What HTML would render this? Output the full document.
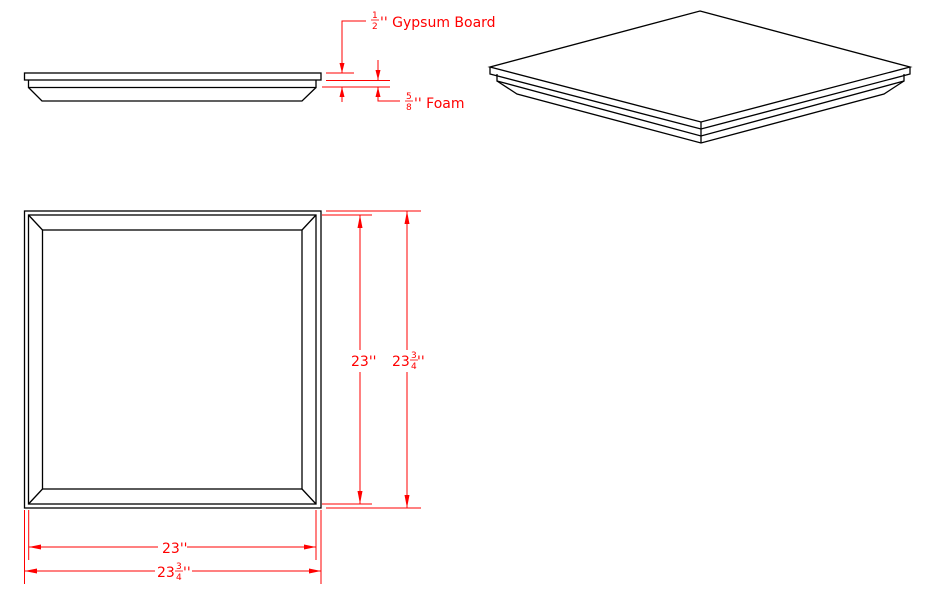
<!DOCTYPE html>
<html><head><meta charset="utf-8"><style>
html,body{margin:0;padding:0;background:#fff;width:933px;height:603px;overflow:hidden}
svg text{font-family:"DejaVu Sans","Liberation Sans",sans-serif;fill:#f00}
</style></head><body>
<svg width="933" height="603" viewBox="0 0 933 603" xmlns="http://www.w3.org/2000/svg">
<g fill="none" stroke="#000" stroke-width="1.3">
<rect x="24.5" y="73" width="296.5" height="7"/>
<polyline points="28.5,80 28.5,87.5 316,87.5 316,80"/>
<polyline points="28.5,87.5 42,101 302,101 316,87.5"/>
<polygon points="700,11 910,67 701,122 490,67"/>
<polyline points="490,67 490,74 701,129 910,74 910,67"/>
<line x1="701" y1="122" x2="701" y2="143"/>
<polyline points="497,74 497,81 701,136 904,81 904,74"/>
<polyline points="497,81 517,94 701,143 884,94 904,81"/>
<rect x="24.5" y="211" width="296.5" height="297"/>
<rect x="28.5" y="215" width="287.5" height="289"/>
<rect x="42.5" y="230" width="259.5" height="259"/>
<line x1="28.5" y1="215" x2="42.5" y2="230"/>
<line x1="316" y1="215" x2="302" y2="230"/>
<line x1="28.5" y1="504" x2="42.5" y2="489"/>
<line x1="316" y1="504" x2="302" y2="489"/>
</g>
<g stroke="#f00" stroke-width="1" fill="none">
<line x1="326" y1="73" x2="354" y2="73"/>
<line x1="326" y1="80.5" x2="390" y2="80.5"/>
<line x1="322" y1="87" x2="390" y2="87"/>
<polyline points="366,21 342,21 342,73"/>
<line x1="342" y1="87" x2="342" y2="102"/>
<line x1="378" y1="60" x2="378" y2="80"/>
<polyline points="378,87 378,101 400,101"/>
<line x1="322" y1="215" x2="372" y2="215"/>
<line x1="322" y1="504" x2="372" y2="504"/>
<line x1="360" y1="215" x2="360" y2="350"/>
<line x1="360" y1="372" x2="360" y2="504"/>
<line x1="326" y1="211" x2="421" y2="211"/>
<line x1="326" y1="508" x2="421" y2="508"/>
<line x1="407" y1="211" x2="407" y2="350"/>
<line x1="407" y1="372" x2="407" y2="508"/>
<line x1="28.7" y1="510" x2="28.7" y2="560"/>
<line x1="316" y1="510" x2="316" y2="560"/>
<line x1="28.7" y1="547" x2="158" y2="547"/>
<line x1="187" y1="547" x2="316" y2="547"/>
<line x1="24.5" y1="510" x2="24.5" y2="584"/>
<line x1="321" y1="510" x2="321" y2="584"/>
<line x1="24.5" y1="571" x2="155" y2="571"/>
<line x1="192" y1="571" x2="321" y2="571"/>
</g>
<g fill="#f00">
<polygon points="342,73 339.5,63 344.5,63"/>
<polygon points="342,87 339.5,97 344.5,97"/>
<polygon points="378,80 375.5,70 380.5,70"/>
<polygon points="378,87 375.5,97 380.5,97"/>
<polygon points="360,215 357.5,228 362.5,228"/>
<polygon points="360,504 357.5,491 362.5,491"/>
<polygon points="407,211 404.5,224 409.5,224"/>
<polygon points="407,508 404.5,495 409.5,495"/>
<polygon points="28.7,547 41,544.5 41,549.5"/>
<polygon points="316,547 304,544.5 304,549.5"/>
<polygon points="24.5,571 37,568.5 37,573.5"/>
<polygon points="321,571 309,568.5 309,573.5"/>
</g>
<g font-size="14">
<text x="372" y="18" font-size="9">1</text>
<line x1="371" y1="20" x2="379" y2="20" stroke="#f00" stroke-width="0.8"/>
<text x="372" y="29" font-size="9">2</text>
<text x="380" y="27">'' Gypsum Board</text>
<text x="406" y="99" font-size="9">5</text>
<line x1="405" y1="101" x2="413" y2="101" stroke="#f00" stroke-width="0.8"/>
<text x="406" y="110" font-size="9">8</text>
<text x="414" y="108">'' Foam</text>
<text x="351" y="366">23''</text>
<text x="392" y="366">23</text>
<text x="411" y="358" font-size="9">3</text>
<line x1="410" y1="360" x2="418" y2="360" stroke="#f00" stroke-width="0.8"/>
<text x="411" y="369" font-size="9">4</text>
<text x="417" y="366">''</text>
<text x="162" y="553">23''</text>
<text x="157" y="577">23</text>
<text x="176" y="569" font-size="9">3</text>
<line x1="175" y1="571" x2="183" y2="571" stroke="#f00" stroke-width="0.8"/>
<text x="176" y="580" font-size="9">4</text>
<text x="183" y="577">''</text>
</g>
</svg>
</body></html>
